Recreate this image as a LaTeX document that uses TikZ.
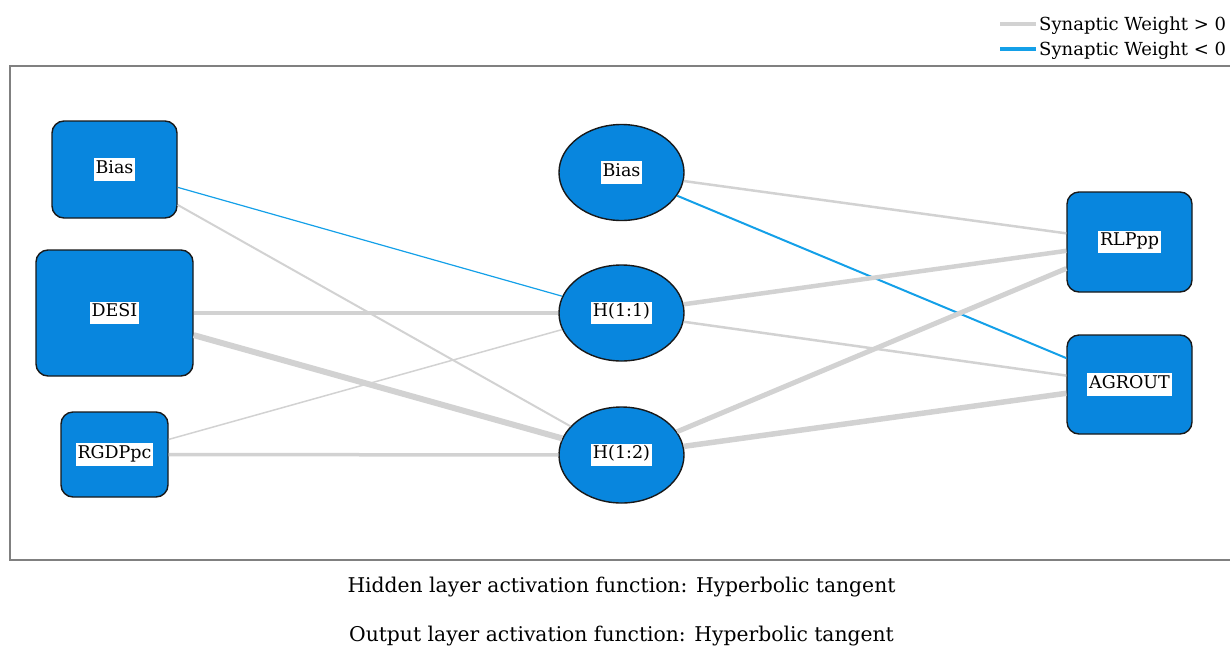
\documentclass[tikz,border=0pt]{standalone}
\usepackage{fontspec}
\setmainfont{DejaVu Serif}
\usetikzlibrary{shapes.geometric}
\definecolor{unitblue}{RGB}{8,134,222}
\definecolor{negw}{RGB}{20,160,232}
\definecolor{posw}{RGB}{210,210,210}
\definecolor{framegray}{RGB}{128,128,128}
\newcommand{\unitlabel}[1]{{\setlength{\fboxsep}{1.8pt}\colorbox{white}{\strut #1}}}
\tikzset{
  unitbox/.style={draw=black!90, line width=1.4pt, fill=unitblue, rounded corners=12pt, inner sep=0pt, font=\fontsize{17.5}{19}\selectfont},
  unitoval/.style={ellipse, draw=black!90, line width=1.4pt, fill=unitblue, minimum width=125pt, minimum height=96pt, inner sep=0pt, font=\fontsize{17.5}{19}\selectfont},
  pos/.style={draw=posw, line width=#1},
  neg/.style={draw=negw, line width=#1},
  caption/.style={font=\fontsize{20.3}{22}\selectfont, inner sep=0pt},
  legtext/.style={font=\fontsize{18}{20}\selectfont, anchor=west, inner sep=0pt}
}
\begin{document}
\begin{tikzpicture}[x=1pt, y=-1pt]
\useasboundingbox (0,0) rectangle (1230,648);

% outer frame of the network panel
\draw[framegray, line width=1.6pt] (10,66) rectangle (1232,560);

% legend
\coordinate (lg1a) at (1000,24); \coordinate (lg1b) at (1036,24);
\coordinate (lg2a) at (1000,49); \coordinate (lg2b) at (1036,49);
\draw[pos=3.5pt] (lg1a) -- (lg1b);
\draw[neg=3.5pt] (lg2a) -- (lg2b);
\node[legtext] (leg1) at (1039,26) {Synaptic Weight > 0};
\node[legtext] (leg2) at (1039,51) {Synaptic Weight < 0};

% input layer
\node[unitbox, minimum width=125pt, minimum height=97pt] (ib) at (114.5,169.5) {\unitlabel{Bias}};
\node[unitbox, minimum width=157pt, minimum height=126pt] (desi) at (114.5,313) {\unitlabel{DESI}};
\node[unitbox, minimum width=107pt, minimum height=85pt] (rgdp) at (114.5,454.5) {\unitlabel{RGDPpc}};

% hidden layer
\node[unitoval] (hb) at (621.5,172.5) {\unitlabel{Bias}};
\node[unitoval] (h1) at (621.5,313) {\unitlabel{H(1:1)}};
\node[unitoval] (h2) at (621.5,455) {\unitlabel{H(1:2)}};

% output layer
\node[unitbox, minimum width=125pt, minimum height=100pt] (rlp) at (1129.5,242) {\unitlabel{RLPpp}};
\node[unitbox, minimum width=125pt, minimum height=99pt] (agr) at (1129.5,384.5) {\unitlabel{AGROUT}};

% synaptic weights
\draw[neg=1.2pt] (ib) -- (h1);
\draw[pos=2pt] (ib) -- (h2);
\draw[pos=4pt] (desi) -- (h1);
\draw[pos=6pt] (desi) -- (h2);
\draw[pos=1.5pt] (rgdp) -- (h1);
\draw[pos=3.5pt] (rgdp) -- (h2);
\draw[pos=2.5pt] (hb) -- (rlp);
\draw[neg=2pt] (hb) -- (agr);
\draw[pos=4.5pt] (h1) -- (rlp);
\draw[pos=2.5pt] (h1) -- (agr);
\draw[pos=5pt] (h2) -- (rlp);
\draw[pos=5.5pt] (h2) -- (agr);

% activation functions
\node[caption] (cap1) at (621.5,587) {Hidden layer activation function: Hyperbolic tangent};
\node[caption] (cap2) at (621.5,636) {Output layer activation function: Hyperbolic tangent};
\end{tikzpicture}
\end{document}
